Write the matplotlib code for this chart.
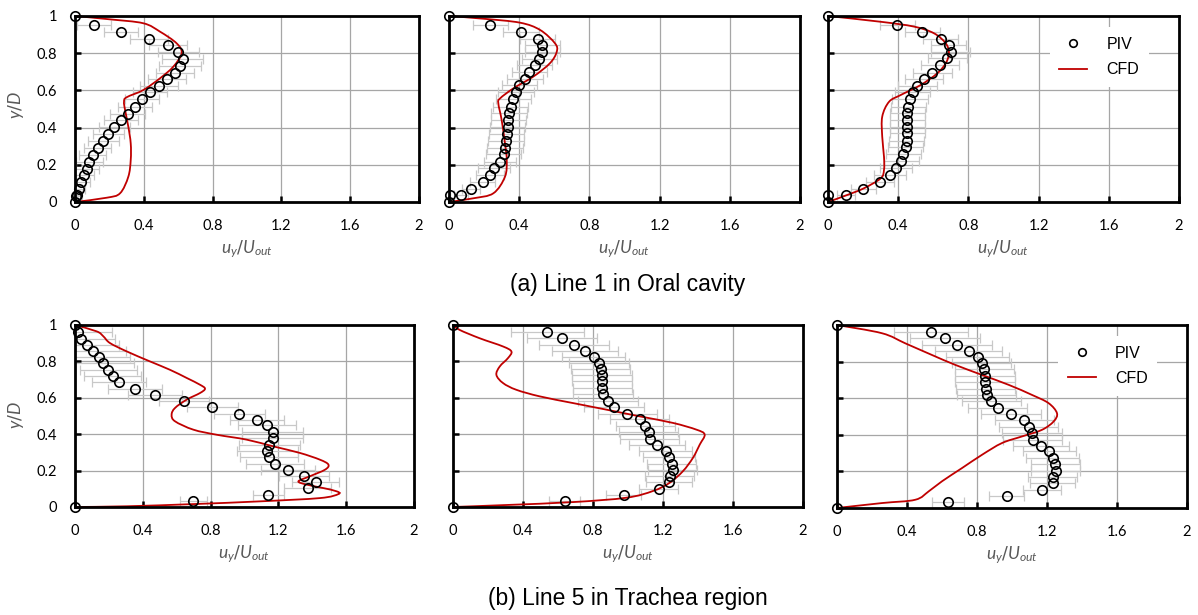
import matplotlib
matplotlib.use("Agg")
import matplotlib.pyplot as plt
from matplotlib.lines import Line2D
from matplotlib.path import Path
from matplotlib.patches import PathPatch

# ---------------- (a) Line 1 in Oral cavity ----------------
a1_piv_x = [0.0, 0.112, 0.266, 0.428, 0.543, 0.601, 0.626, 0.610, 0.581, 0.533, 0.486, 0.436, 0.391, 0.349, 0.306,
            0.266, 0.229, 0.194, 0.165, 0.132, 0.103, 0.083, 0.068, 0.052, 0.035, 0.021, 0.010, 0.005, 0.0]
a1_piv_y = [1.0, 0.953, 0.916, 0.878, 0.846, 0.805, 0.767, 0.731, 0.695, 0.661, 0.625, 0.590, 0.552, 0.511, 0.475,
            0.441, 0.405, 0.366, 0.328, 0.292, 0.254, 0.217, 0.179, 0.143, 0.108, 0.068, 0.036, 0.030, 0.0]
a1_piv_err = [0.0, 0.10, 0.10, 0.11, 0.11, 0.12, 0.12, 0.12, 0.11, 0.11, 0.11, 0.10, 0.10, 0.10, 0.10,
              0.10, 0.09, 0.09, 0.09, 0.08, 0.08, 0.08, 0.07, 0.06, 0.05, 0.04, 0.03, 0.03, 0.0]
a1_cfd_x = [0.0, 0.203, 0.397, 0.494, 0.591, 0.620, 0.572, 0.494, 0.397, 0.300, 0.285, 0.291, 0.310, 0.324,
            0.324, 0.310, 0.262, 0.184, 0.0]
a1_cfd_y = [1.0, 0.982, 0.961, 0.916, 0.853, 0.800, 0.728, 0.665, 0.602, 0.563, 0.539, 0.495, 0.405, 0.315,
            0.226, 0.136, 0.047, 0.023, 0.0]

a2_piv_x = [0.0, 0.234, 0.410, 0.505, 0.532, 0.532, 0.515, 0.488, 0.458, 0.433, 0.401, 0.382, 0.367, 0.352, 0.342,
            0.338, 0.334, 0.329, 0.325, 0.319, 0.313, 0.291, 0.256, 0.234, 0.192, 0.124, 0.068, 0.006, 0.0]
a2_piv_y = [1.0, 0.953, 0.916, 0.878, 0.844, 0.808, 0.770, 0.735, 0.697, 0.661, 0.627, 0.590, 0.552, 0.512, 0.477,
            0.441, 0.402, 0.366, 0.330, 0.292, 0.256, 0.217, 0.181, 0.145, 0.108, 0.070, 0.036, 0.038, 0.0]
a2_piv_err = [0.0, 0.10, 0.10, 0.10, 0.10, 0.10, 0.10, 0.10, 0.10, 0.10, 0.10, 0.10, 0.10, 0.10, 0.10,
              0.10, 0.10, 0.10, 0.10, 0.10, 0.10, 0.09, 0.09, 0.08, 0.07, 0.05, 0.04, 0.0, 0.0]
a2_cfd_x = [0.0, 0.200, 0.405, 0.519, 0.604, 0.614, 0.575, 0.480, 0.367, 0.291, 0.281, 0.300, 0.319, 0.329,
            0.319, 0.253, 0.139, 0.0]
a2_cfd_y = [1.0, 0.985, 0.964, 0.925, 0.853, 0.808, 0.746, 0.674, 0.611, 0.557, 0.531, 0.441, 0.315, 0.226,
            0.136, 0.047, 0.020, 0.0]

a3_piv_x = [0.0, 0.395, 0.537, 0.642, 0.689, 0.699, 0.680, 0.638, 0.595, 0.547, 0.509, 0.484, 0.467, 0.458, 0.452,
            0.452, 0.452, 0.452, 0.448, 0.443, 0.429, 0.418, 0.389, 0.352, 0.294, 0.201, 0.104, 0.0, 0.0]
a3_piv_y = [1.0, 0.953, 0.916, 0.878, 0.844, 0.808, 0.772, 0.737, 0.695, 0.661, 0.625, 0.590, 0.552, 0.512, 0.477,
            0.441, 0.405, 0.369, 0.330, 0.294, 0.256, 0.220, 0.181, 0.145, 0.108, 0.072, 0.036, 0.038, 0.0]
a3_piv_err = [0.0, 0.10, 0.10, 0.10, 0.10, 0.11, 0.11, 0.11, 0.11, 0.11, 0.11, 0.10, 0.10, 0.10, 0.10,
              0.10, 0.10, 0.10, 0.10, 0.10, 0.10, 0.10, 0.09, 0.09, 0.08, 0.07, 0.05, 0.0, 0.0]
a3_cfd_x = [0.0, 0.300, 0.490, 0.604, 0.671, 0.689, 0.671, 0.623, 0.528, 0.414, 0.348, 0.309, 0.309, 0.319,
            0.319, 0.300, 0.205, 0.110, 0.0]
a3_cfd_y = [1.0, 0.969, 0.943, 0.907, 0.853, 0.800, 0.746, 0.692, 0.629, 0.575, 0.539, 0.459, 0.351, 0.244,
            0.172, 0.127, 0.074, 0.038, 0.0]

# ---------------- (b) Line 5 in Trachea region ----------------
b1_piv_x = [0.0, 0.020, 0.035, 0.069, 0.108, 0.144, 0.167, 0.197, 0.222, 0.258, 0.356, 0.474, 0.643, 0.810, 0.968,
            1.072, 1.131, 1.166, 1.166, 1.146, 1.135, 1.145, 1.180, 1.255, 1.351, 1.420, 1.373, 1.141, 0.698, 0.0]
b1_piv_y = [1.0, 0.962, 0.923, 0.892, 0.859, 0.823, 0.791, 0.754, 0.718, 0.687, 0.650, 0.617, 0.581, 0.548, 0.513,
            0.480, 0.449, 0.412, 0.379, 0.343, 0.306, 0.275, 0.238, 0.205, 0.169, 0.136, 0.104, 0.064, 0.035, 0.0]
b1_piv_err = [0.0, 0.20, 0.20, 0.19, 0.19, 0.18, 0.18, 0.17, 0.17, 0.16, 0.16, 0.16, 0.15, 0.15, 0.15,
              0.16, 0.17, 0.18, 0.18, 0.18, 0.18, 0.17, 0.17, 0.16, 0.15, 0.14, 0.14, 0.09, 0.08, 0.0]
b1_cfd_x = [0.0, 0.128, 0.167, 0.206, 0.305, 0.442, 0.560, 0.659, 0.737, 0.767, 0.737, 0.659, 0.590, 0.570,
            0.590, 0.698, 0.836, 1.013, 1.170, 1.327, 1.445, 1.495, 1.475, 1.386, 1.318, 1.367, 1.465, 1.544,
            1.554, 1.445, 1.091, 0.698, 0.305, 0.0]
b1_cfd_y = [1.0, 0.965, 0.938, 0.901, 0.855, 0.800, 0.754, 0.709, 0.672, 0.650, 0.626, 0.590, 0.544, 0.507,
            0.471, 0.425, 0.397, 0.370, 0.333, 0.297, 0.260, 0.233, 0.205, 0.169, 0.141, 0.123, 0.104, 0.086,
            0.071, 0.049, 0.031, 0.016, 0.004, 0.0]

b2_piv_x = [0.0, 0.539, 0.625, 0.690, 0.753, 0.804, 0.833, 0.844, 0.851, 0.851, 0.853, 0.857, 0.886, 0.920, 0.997,
            1.067, 1.099, 1.118, 1.124, 1.166, 1.215, 1.234, 1.251, 1.257, 1.238, 1.234, 1.175, 0.975, 0.638, 0.0]
b2_piv_y = [1.0, 0.962, 0.929, 0.892, 0.859, 0.825, 0.792, 0.757, 0.724, 0.691, 0.655, 0.619, 0.584, 0.551, 0.511,
            0.484, 0.445, 0.411, 0.374, 0.341, 0.310, 0.274, 0.239, 0.204, 0.168, 0.135, 0.100, 0.064, 0.035, 0.0]
b2_piv_err = [0.0, 0.21, 0.20, 0.20, 0.19, 0.18, 0.17, 0.17, 0.17, 0.17, 0.17, 0.17, 0.17, 0.17, 0.17,
              0.17, 0.17, 0.17, 0.17, 0.16, 0.15, 0.15, 0.14, 0.14, 0.14, 0.13, 0.11, 0.10, 0.09, 0.0]
b2_cfd_x = [0.0, 0.038, 0.153, 0.286, 0.334, 0.314, 0.267, 0.248, 0.286, 0.362, 0.495, 0.686, 0.876, 1.067,
            1.257, 1.391, 1.438, 1.410, 1.371, 1.314, 1.238, 1.143, 0.991, 0.686, 0.305, 0.0]
b2_cfd_y = [1.0, 0.973, 0.927, 0.882, 0.854, 0.818, 0.772, 0.726, 0.681, 0.644, 0.608, 0.571, 0.535, 0.498,
            0.462, 0.425, 0.398, 0.343, 0.270, 0.197, 0.133, 0.088, 0.051, 0.027, 0.011, 0.0]

b3_piv_x = [0.0, 0.537, 0.619, 0.686, 0.752, 0.804, 0.827, 0.842, 0.846, 0.846, 0.849, 0.855, 0.882, 0.918, 0.994,
            1.070, 1.095, 1.114, 1.118, 1.163, 1.213, 1.232, 1.247, 1.251, 1.232, 1.232, 1.171, 0.971, 0.634, 0.0]
b3_piv_y = [1.0, 0.962, 0.929, 0.892, 0.859, 0.825, 0.792, 0.757, 0.724, 0.688, 0.651, 0.619, 0.582, 0.549, 0.511,
            0.482, 0.445, 0.409, 0.374, 0.341, 0.310, 0.274, 0.239, 0.204, 0.168, 0.135, 0.100, 0.064, 0.035, 0.0]
b3_piv_err = [0.0, 0.21, 0.20, 0.20, 0.19, 0.18, 0.17, 0.17, 0.17, 0.17, 0.17, 0.17, 0.17, 0.17, 0.17,
              0.17, 0.17, 0.17, 0.17, 0.16, 0.15, 0.15, 0.14, 0.14, 0.14, 0.13, 0.11, 0.10, 0.09, 0.0]
b3_cfd_x = [0.0, 0.257, 0.390, 0.543, 0.676, 0.829, 0.981, 1.114, 1.209, 1.257, 1.238, 1.171, 1.057, 0.943,
            0.829, 0.714, 0.600, 0.524, 0.447, 0.257, 0.0]
b3_cfd_y = [1.0, 0.955, 0.900, 0.836, 0.782, 0.727, 0.673, 0.618, 0.573, 0.518, 0.473, 0.427, 0.391, 0.355,
            0.291, 0.218, 0.146, 0.091, 0.045, 0.027, 0.0]

x_ticks = [0, 0.4, 0.8, 1.2, 1.6, 2]
x_tick_labels = ["0", "0.4", "0.8", "1.2", "1.6", "2"]
y_ticks = [0, 0.2, 0.4, 0.6, 0.8, 1]
y_tick_labels = ["0", "0.2", "0.4", "0.6", "0.8", "1"]
captions = ["(a) Line 1 in Oral cavity", "(b) Line 5 in Trachea region"]

W, H = 1198, 615
fig = plt.figure(figsize=(W / 100, H / 100), dpi=100)

plt.rcParams["mathtext.fontset"] = "custom"
plt.rcParams["mathtext.it"] = "Lato:italic"
plt.rcParams["mathtext.rm"] = "Lato"


def px_axes(left, top, right, bottom):
    return fig.add_axes([left / W, 1 - bottom / H, (right - left) / W, (bottom - top) / H])


TICK_FONT = "Lato"
RED = "#c00000"
GRID = "#a6a6a6"
ERR = "#c8c8c8"
MS = 6.8


def smooth_path(xs, ys):
    """Smoothed line through the given points (Catmull-Rom, as cubic Bezier segments)."""
    pts = list(zip(xs, ys))
    verts = [pts[0]]
    codes = [Path.MOVETO]
    n = len(pts)
    for i in range(n - 1):
        p0 = pts[i - 1] if i > 0 else pts[i]
        p1 = pts[i]
        p2 = pts[i + 1]
        p3 = pts[i + 2] if i + 2 < n else pts[i + 1]
        c1 = (p1[0] + (p2[0] - p0[0]) / 6, p1[1] + (p2[1] - p0[1]) / 6)
        c2 = (p2[0] - (p3[0] - p1[0]) / 6, p2[1] - (p3[1] - p1[1]) / 6)
        verts += [c1, c2, p2]
        codes += [Path.CURVE4] * 3
    return Path(verts, codes)


def draw_panel(ax, px, py, perr, cx, cy, show_y, legend=False):
    ax.set_xlim(0, 2)
    ax.set_ylim(0, 1)
    ax.set_xticks(x_ticks)
    ax.set_yticks(y_ticks)
    ax.set_xticklabels(x_tick_labels, fontfamily=TICK_FONT, fontsize=10.5)
    if show_y:
        ax.set_yticklabels(y_tick_labels, fontfamily=TICK_FONT, fontsize=10.5)
    else:
        ax.set_yticklabels([])
    ax.tick_params(axis="both", direction="in", length=4, width=1.8, color="black")
    ax.tick_params(axis="x", pad=12)
    ax.tick_params(axis="y", pad=13)
    for s in ax.spines.values():
        s.set_linewidth(2.0)
        s.set_color("black")
        s.set_zorder(6)
    for v in x_ticks[1:-1]:
        ax.axvline(v, color=GRID, lw=0.9, zorder=0)
    for v in y_ticks[1:-1]:
        ax.axhline(v, color=GRID, lw=0.9, zorder=0)
    ax.errorbar(px, py, xerr=perr, fmt="none", ecolor=ERR, elinewidth=0.9,
                capsize=3.5, capthick=0.9, zorder=2)
    ax.add_patch(PathPatch(smooth_path(cx, cy), facecolor="none", edgecolor=RED, lw=1.3,
                           zorder=3, clip_on=False))
    ax.plot(px, py, linestyle="none", marker="o", markersize=MS, markerfacecolor="none",
            markeredgecolor="black", markeredgewidth=1.2, zorder=7, clip_on=False)
    ax.set_xlabel(r"$u_y$/$U_{out}$", color="#595959", fontsize=12.5, labelpad=4)
    if legend:
        handles = [Line2D([], [], linestyle="none", marker="o", markersize=MS * 0.8, markerfacecolor="none",
                          markeredgecolor="black", markeredgewidth=1.2),
                   Line2D([], [], color=RED, lw=1.3)]
        leg = ax.legend(handles, ["PIV", "CFD"], loc="upper left", bbox_to_anchor=(0.632, 0.94),
                        borderaxespad=0, frameon=True, fancybox=False, framealpha=1, edgecolor="none",
                        prop={"family": "Liberation Sans", "size": 11.5}, handlelength=1.75,
                        handletextpad=1.2, labelspacing=0.65, borderpad=0.6)
        leg.set_zorder(5)


top_axes = [px_axes(75, 16, 419, 202), px_axes(449, 16, 800, 202), px_axes(828, 16, 1179, 202)]
bot_axes = [px_axes(75, 325, 414, 507), px_axes(453, 325, 803, 507), px_axes(837, 325, 1187, 508)]

draw_panel(top_axes[0], a1_piv_x, a1_piv_y, a1_piv_err, a1_cfd_x, a1_cfd_y, True)
draw_panel(top_axes[1], a2_piv_x, a2_piv_y, a2_piv_err, a2_cfd_x, a2_cfd_y, False)
draw_panel(top_axes[2], a3_piv_x, a3_piv_y, a3_piv_err, a3_cfd_x, a3_cfd_y, False, legend=True)
draw_panel(bot_axes[0], b1_piv_x, b1_piv_y, b1_piv_err, b1_cfd_x, b1_cfd_y, True)
draw_panel(bot_axes[1], b2_piv_x, b2_piv_y, b2_piv_err, b2_cfd_x, b2_cfd_y, False)
draw_panel(bot_axes[2], b3_piv_x, b3_piv_y, b3_piv_err, b3_cfd_x, b3_cfd_y, False, legend=True)

for ypx in (105, 415):
    fig.text(16 / W, 1 - ypx / H, r"$y$/$D$", rotation=90, ha="center", va="center",
             color="#595959", fontsize=12.5)

fig.text(628 / W, 1 - 285 / H, captions[0], ha="center", va="center",
         fontfamily="Liberation Sans", fontsize=16.5)
fig.text(628 / W, 1 - 598 / H, captions[1], ha="center", va="center",
         fontfamily="Liberation Sans", fontsize=16.5)

fig.savefig("out.png", dpi=100, facecolor="white")
